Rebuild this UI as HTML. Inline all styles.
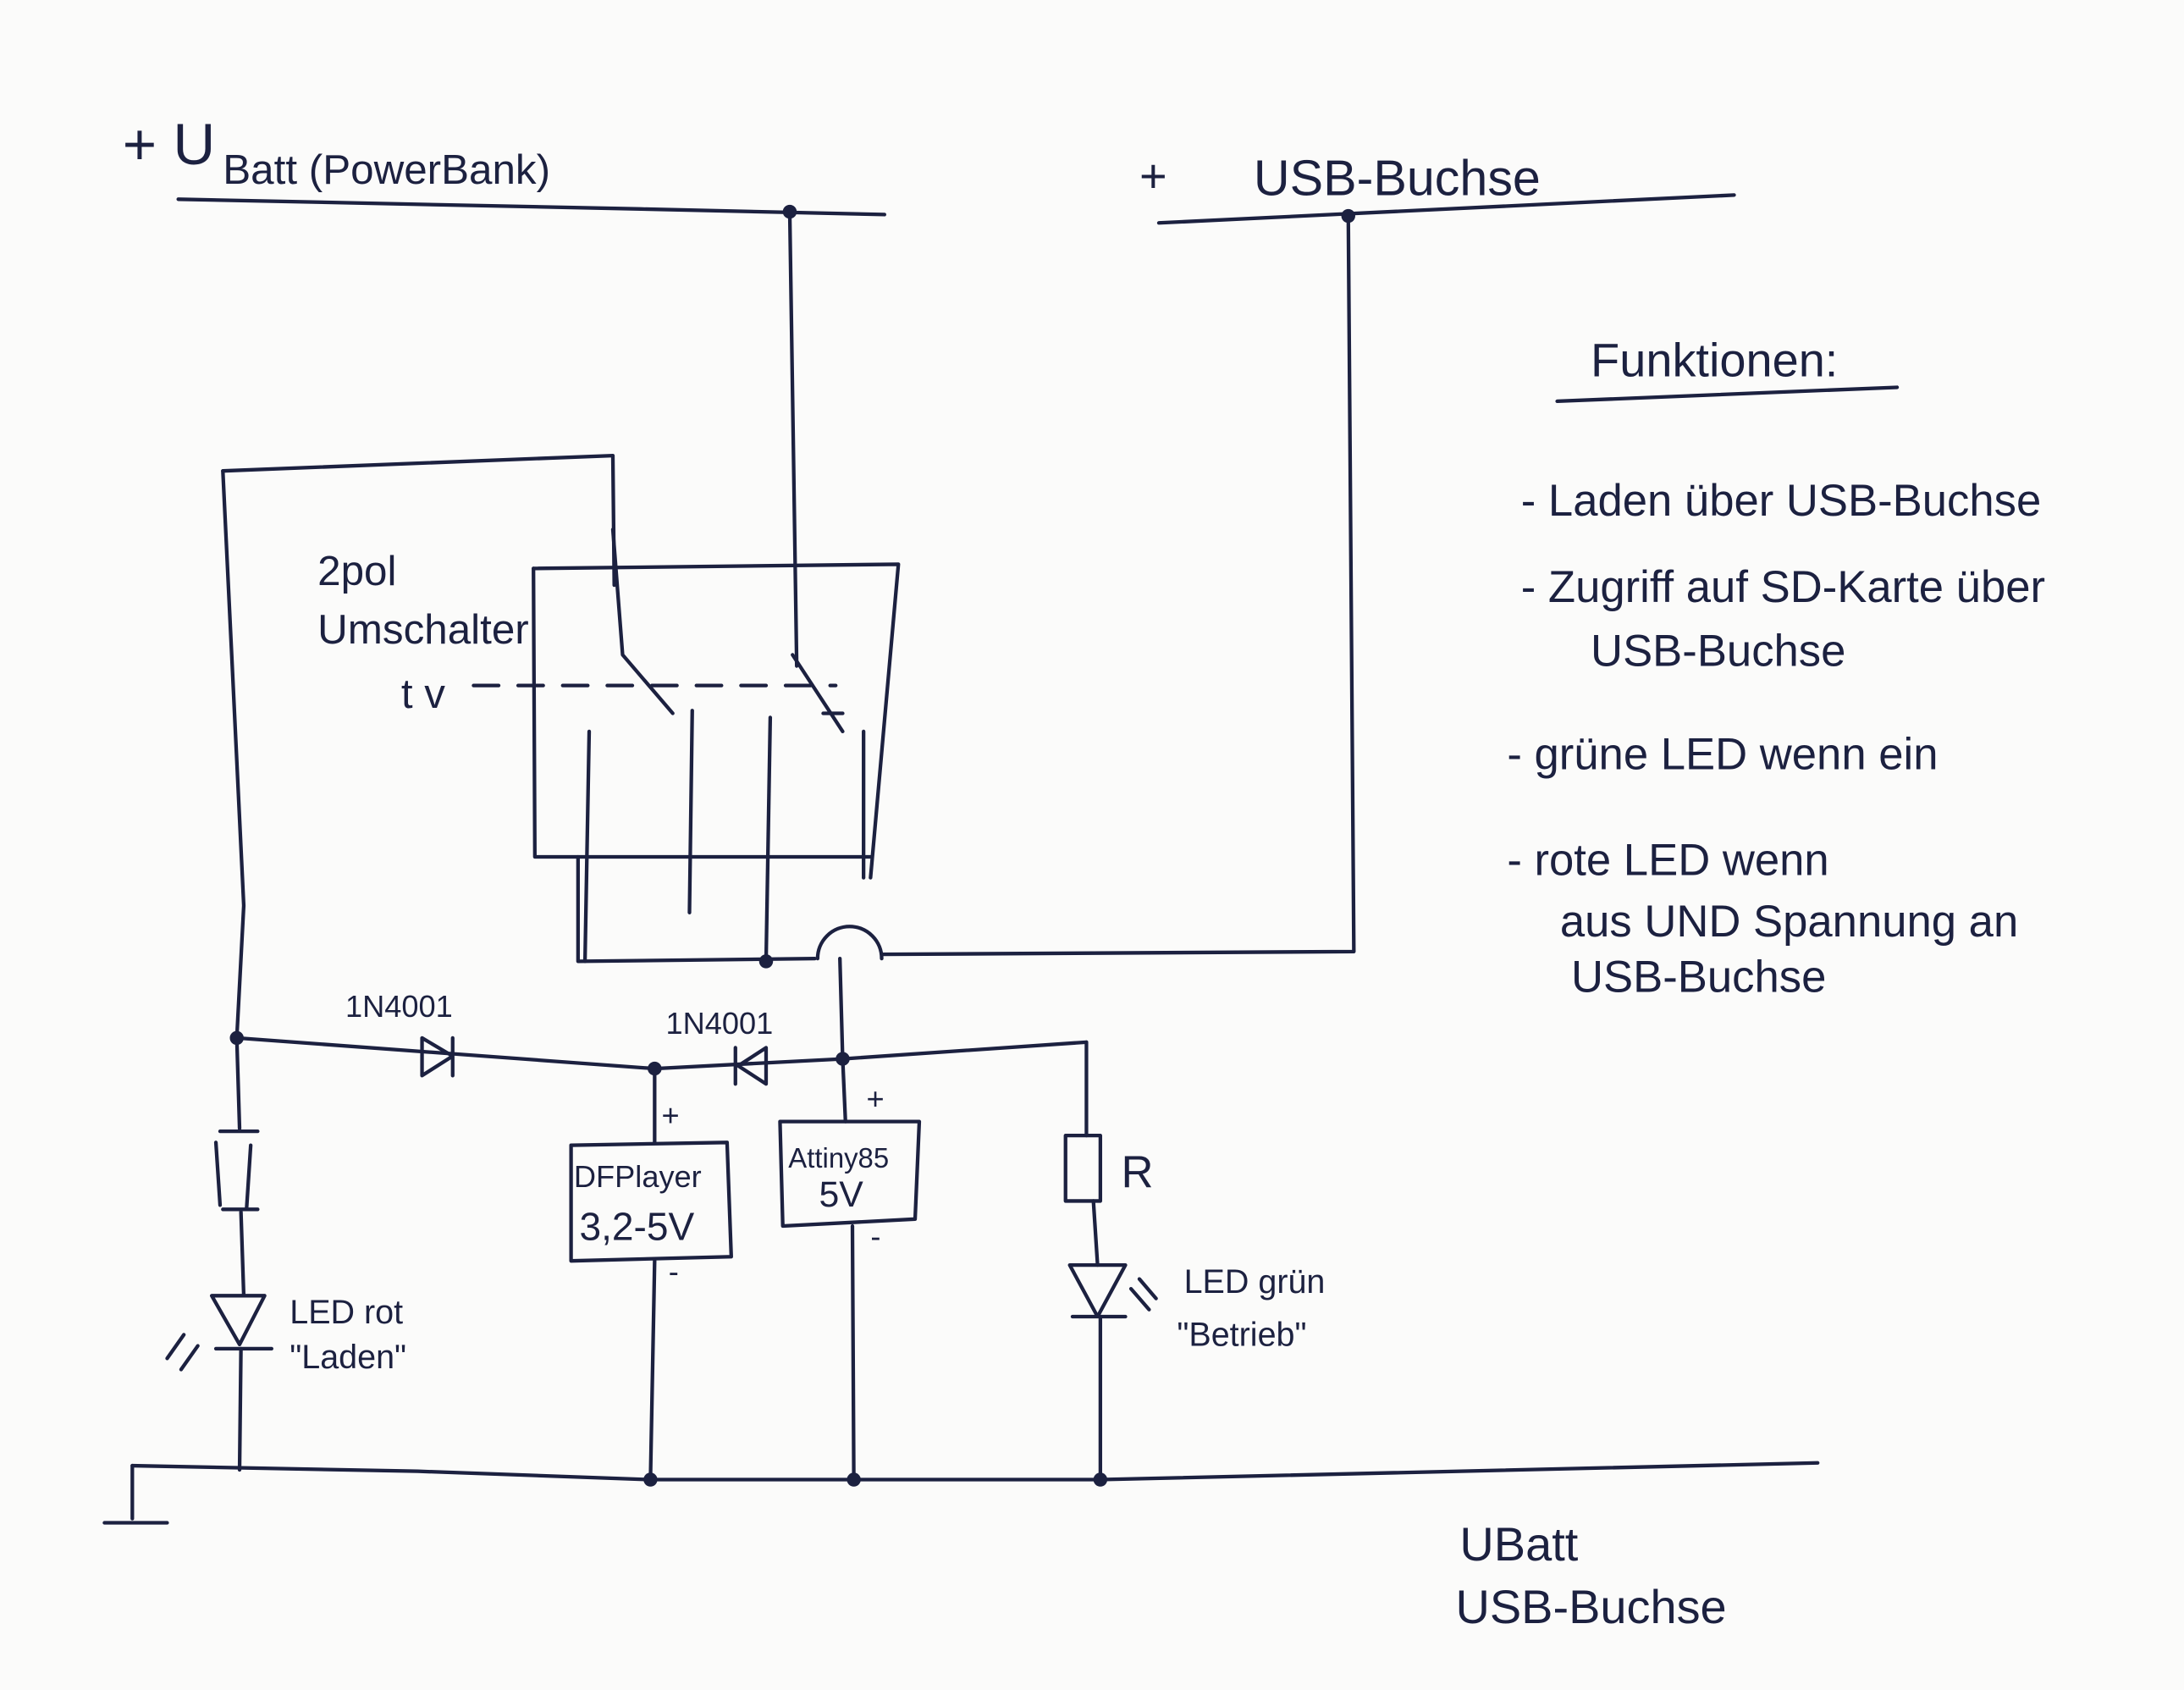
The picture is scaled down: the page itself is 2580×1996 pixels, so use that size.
<!DOCTYPE html>
<html><head><meta charset="utf-8"><style>
html,body{margin:0;padding:0;background:#fbfbfa;}
svg{display:block}
text{font-family:"Liberation Sans",sans-serif;fill:#1c2140;}
</style></head><body>
<svg width="2580" height="1996" viewBox="0 0 1568 1213" preserveAspectRatio="none" xmlns="http://www.w3.org/2000/svg">
<rect width="1568" height="1213" fill="#fbfbfa"/>
<g stroke="#1c2140" stroke-width="2.6" fill="none" stroke-linecap="round" stroke-linejoin="round">
<path d="M128,143 L460,150 L635,154"/>
<path d="M832,160 L1245,140"/>
<path d="M968,155 L972,683 L633,685"/>
<path d="M587,688 A23,23 0 0 1 633,688"/>
<path d="M567,152 L572,478"/>
<path d="M569,470 L605,525"/>
<path d="M591,512 L605,512"/>
<path d="M160,338 L440,327 L441,420"/>
<path d="M160,338 L175,650 L170,745"/>
<path d="M440,380 L447,470 L483,512"/>
<path d="M383,408 L645,405 L625,630"/>
<path d="M383,408 L384,615 L625,615"/>
<path d="M423,525 L420,690"/>
<path d="M497,510 L495,655"/>
<path d="M553,515 L550,690"/>
<path d="M415,615 L415,690 L585,688"/>
<path d="M603,688 L605,760"/>
<path d="M620,525 L620,630"/>
<path d="M340,492 L600,492" stroke-dasharray="18,14"/>
<path d="M170,745 L470,767 L605,760 L780,748"/>
<path d="M303,745 L303,772 L325,758 Z M325,745 L325,772"/>
<path d="M528,752 L528,778 M550,752 L530,765 L550,778 Z"/>
<path d="M170,745 L172,810"/>
<path d="M158,812 L185,812 M155,820 L158,865 M180,822 L177,868 M160,868 L185,868"/>
<path d="M173,870 L175,930"/>
<path d="M152,930 L190,930 L172,965 Z M155,968 L195,968"/>
<path d="M120,975 L132,958 M130,983 L142,966"/>
<path d="M173,968 L172,1055"/>
<path d="M95,1052 L300,1056 L467,1062 L790,1062 L1305,1050"/>
<path d="M95,1052 L95,1090 M75,1093 L120,1093"/>
<path d="M470,767 L470,820"/>
<path d="M410,822 L522,820 L525,902 L410,905 Z"/>
<path d="M470,905 L467,1062"/>
<path d="M605,760 L607,805"/>
<path d="M560,805 L660,805 L657,875 L562,880 Z"/>
<path d="M612,880 L613,1062"/>
<path d="M780,748 L780,815"/>
<path d="M765,815 L790,815 L790,862 L765,862 Z"/>
<path d="M785,862 L788,908"/>
<path d="M768,908 L808,908 L788,945 Z M770,945 L808,945"/>
<path d="M812,925 L825,940 M818,918 L830,932"/>
<path d="M790,945 L790,1062"/>
<path d="M1118,288 L1362,278"/>
</g>
<g fill="#1c2140">
<circle cx="567" cy="152" r="5"/><circle cx="968" cy="155" r="5"/>
<circle cx="550" cy="690" r="5"/><circle cx="170" cy="745" r="5"/>
<circle cx="470" cy="767" r="5"/><circle cx="605" cy="760" r="5"/>
<circle cx="467" cy="1062" r="5"/><circle cx="613" cy="1062" r="5"/>
<circle cx="790" cy="1062" r="5"/>
</g>
<text x="88" y="118" font-size="42">+ U</text>
<text x="160" y="132" font-size="30">Batt (PowerBank)</text>
<text x="818" y="138" font-size="34">+</text>
<text x="900" y="140" font-size="36">USB-Buchse</text>
<text x="228" y="420" font-size="30">2pol</text>
<text x="228" y="462" font-size="30">Umschalter</text>
<text x="288" y="508" font-size="30">t v</text>
<text x="248" y="730" font-size="22">1N4001</text>
<text x="478" y="742" font-size="22">1N4001</text>
<text x="475" y="808" font-size="22">+</text>
<text x="622" y="796" font-size="22">+</text>
<text x="412" y="852" font-size="22">DFPlayer</text>
<text x="416" y="890" font-size="28">3,2-5V</text>
<text x="566" y="838" font-size="20">Attiny85</text>
<text x="588" y="866" font-size="26">5V</text>
<text x="480" y="920" font-size="22">-</text>
<text x="625" y="895" font-size="22">-</text>
<text x="805" y="852" font-size="32">R</text>
<text x="208" y="950" font-size="24">LED rot</text>
<text x="208" y="982" font-size="24">"Laden"</text>
<text x="850" y="928" font-size="24">LED grün</text>
<text x="845" y="966" font-size="24">"Betrieb"</text>
<text x="1142" y="270" font-size="34">Funktionen:</text>
<text x="1092" y="370" font-size="32">- Laden über USB-Buchse</text>
<text x="1092" y="432" font-size="32">- Zugriff auf SD-Karte über</text>
<text x="1142" y="478" font-size="32">USB-Buchse</text>
<text x="1082" y="552" font-size="32">- grüne LED wenn ein</text>
<text x="1082" y="628" font-size="32">- rote LED wenn</text>
<text x="1120" y="672" font-size="32">aus UND Spannung an</text>
<text x="1128" y="712" font-size="32">USB-Buchse</text>
<text x="1048" y="1120" font-size="34">UBatt</text>
<text x="1045" y="1165" font-size="34">USB-Buchse</text>
</svg>
</body></html>
